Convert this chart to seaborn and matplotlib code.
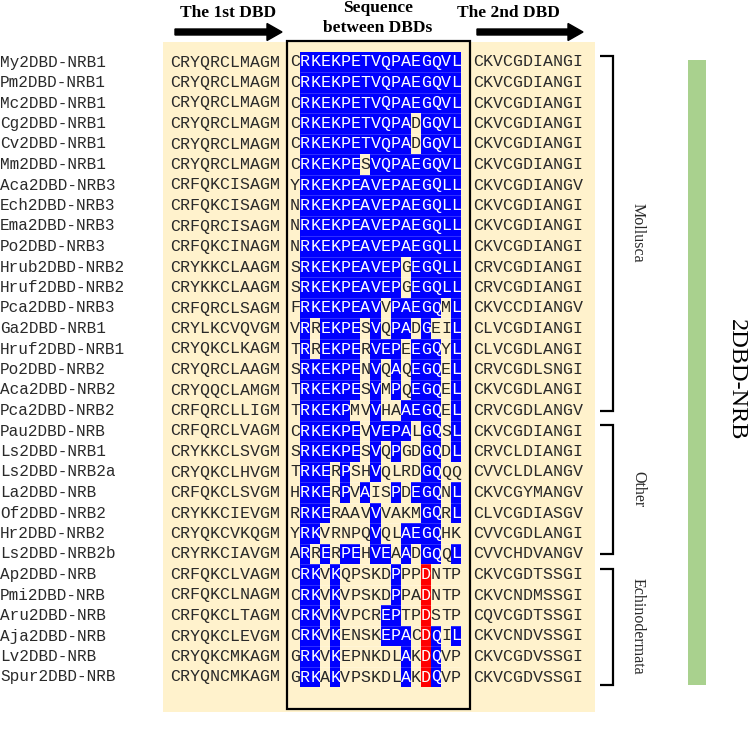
import numpy as np
import matplotlib
matplotlib.use("Agg")
import matplotlib.pyplot as plt
import seaborn as sns
from matplotlib.colors import ListedColormap
from matplotlib.patches import Rectangle, FancyArrow

# ---------------- data ----------------
names = [
    "My2DBD-NRB1", "Pm2DBD-NRB1", "Mc2DBD-NRB1", "Cg2DBD-NRB1", "Cv2DBD-NRB1",
    "Mm2DBD-NRB1", "Aca2DBD-NRB3", "Ech2DBD-NRB3", "Ema2DBD-NRB3", "Po2DBD-NRB3",
    "Hrub2DBD-NRB2", "Hruf2DBD-NRB2", "Pca2DBD-NRB3", "Ga2DBD-NRB1", "Hruf2DBD-NRB1",
    "Po2DBD-NRB2", "Aca2DBD-NRB2", "Pca2DBD-NRB2", "Pau2DBD-NRB", "Ls2DBD-NRB1",
    "Ls2DBD-NRB2a", "La2DBD-NRB", "Of2DBD-NRB2", "Hr2DBD-NRB2", "Ls2DBD-NRB2b",
    "Ap2DBD-NRB", "Pmi2DBD-NRB", "Aru2DBD-NRB", "Aja2DBD-NRB", "Lv2DBD-NRB",
    "Spur2DBD-NRB",
]
left_seq = [
    "CRYQRCLMAGM", "CRYQRCLMAGM", "CRYQRCLMAGM", "CRYQRCLMAGM", "CRYQRCLMAGM",
    "CRYQRCLMAGM", "CRFQKCISAGM", "CRFQKCISAGM", "CRFQRCISAGM", "CRFQKCINAGM",
    "CRYKKCLAAGM", "CRYKKCLAAGM", "CRFQRCLSAGM", "CRYLKCVQVGM", "CRYQKCLKAGM",
    "CRYQRCLAAGM", "CRYQQCLAMGM", "CRFQRCLLIGM", "CRFQRCLVAGM", "CRYKKCLSVGM",
    "CRYQKCLHVGM", "CRFQKCLSVGM", "CRYKKCIEVGM", "CRYQKCVKQGM", "CRYRKCIAVGM",
    "CRFQKCLVAGM", "CRFQKCLNAGM", "CRFQKCLTAGM", "CRYQKCLEVGM", "CRYQKCMKAGM",
    "CRYQNCMKAGM",
]
mid_seq = [
    "CRKEKPETVQPAEGQVL", "CRKEKPETVQPAEGQVL", "CRKEKPETVQPAEGQVL", "CRKEKPETVQPADGQVL",
    "CRKEKPETVQPADGQVL", "CRKEKPESVQPAEGQVL", "YRKEKPEAVEPAEGQLL", "NRKEKPEAVEPAEGQLL",
    "NRKEKPEAVEPAEGQLL", "NRKEKPEAVEPAEGQLL", "SRKEKPEAVEPGEGQLL", "SRKEKPEAVEPGEGQLL",
    "FRKEKPEAVVPAEGQML", "VRREKPESVQPADGEIL", "TRREKPERVEPEEGQYL", "SRKEKPENVQAQEGQEL",
    "TRKEKPESVMPQEGQEL", "TRKEKPMVVHAAEGQEL", "CRKEKPEVVEPALGQSL", "SRKEKPESVQPGDGQDL",
    "TRKERPSHVQLRDGQQQ", "HRKERPVAISPDEGQNL", "RRKERAAVVVAKMGQRL", "YRKVRNPQVQLAEGQHK",
    "ARRERPEHVEAADGQQL", "CRKVKQPSKDPPPDNTP", "CRKVKVPSKDPPADNTP", "CRKVKVPCREPTPDSTP",
    "CRKVKENSKEPACDQIL", "GRKVKEPNKDLAKDQVP", "GRKAKVPSKDLAKDQVP",
]
# shading of the between-DBD sequence: '.' none, 'b' blue, 'r' red
mid_marks = [
    ".bbbbbbbbbbbbbbbb", ".bbbbbbbbbbbbbbbb", ".bbbbbbbbbbbbbbbb", ".bbbbbbbbbbb.bbbb",
    ".bbbbbbbbbbb.bbbb", ".bbbbbb.bbbbbbbbb", ".bbbbbbbbbbbbbbbb", ".bbbbbbbbbbbbbbbb",
    ".bbbbbbbbbbbbbbbb", ".bbbbbbbbbbbbbbbb", ".bbbbbbbbbb.bbbbb", ".bbbbbbbbbb.bbbbb",
    ".bbbbbbbb.bbbbb.b", ".b.bbbb.b.bb.b..b", ".b.bbbb.bbb.bbb.b", ".bbbbbb.b.b.bbb.b",
    ".bbbbbb.b.b.bbb.b", ".bbbbb..b..bbbb.b", ".bbbbbb.bbbb.bb.b", ".bbbbbb.b.b..bb.b",
    ".bbb.b..b....bb..", ".bbb.b.b..b.bbb.b", ".bbb....b....bb.b", ".bb.....b..bbbb..",
    ".b.b.bb.bb.b.bb.b", ".bb.b.....b..r...", ".bb.b.....b..r...", ".bb.b....bb..r...",
    ".bb.b....bbb.rb.b", ".bb.b......b.rb..", ".bb.b......b.rb..",
]
right_seq = [
    "CKVCGDIANGI", "CKVCGDIANGI", "CKVCGDIANGI", "CKVCGDIANGI", "CKVCGDIANGI",
    "CKVCGDIANGI", "CKVCGDIANGV", "CKVCGDIANGI", "CKVCGDIANGI", "CKVCGDIANGI",
    "CRVCGDIANGI", "CRVCGDIANGI", "CKVCCDIANGV", "CLVCGDIANGI", "CLVCGDLANGI",
    "CRVCGDLSNGI", "CKVCGDLANGI", "CRVCGDLANGV", "CKVCGDIANGI", "CRVCLDIANGI",
    "CVVCLDLANGV", "CKVCGYMANGV", "CLVCGDIASGV", "CVVCGDLANGI", "CVVCHDVANGV",
    "CKVCGDTSSGI", "CKVCNDMSSGI", "CQVCGDTSSGI", "CKVCNDVSSGI", "CKVCGDVSSGI",
    "CKVCGDVSSGI",
]
groups = ["Mollusca", "Other", "Echinodermata"]
group_sizes = [18, 7, 6]
headers = ["The 1st DBD", "Sequence\nbetween DBDs", "The 2nd DBD"]
family_label = "2DBD-NRB"

# ---------------- style ----------------
sns.set_theme(style="white")
plt.rcParams["font.family"] = ["DejaVu Sans"]

cream = "#fff2cc"
blue = "#0000ff"
red = "#ff0000"
green = "#a9d18e"
txt = "#2a2a2a"
mono = "Liberation Mono"
serif = "Liberation Serif"

W, H = 750, 740
fig = plt.figure(figsize=(7.5, 7.4), dpi=100)
ax = fig.add_axes([0, 0, 1, 1])
ax.set_xlim(0, W)
ax.set_ylim(H, 0)
ax.axis("off")

n = len(names)
row0, dy = 62.0, 20.5
ys = row0 + dy * np.arange(n)
cw = 10.06

# cream background
ax.add_patch(Rectangle((163, 42), 595 - 163, 712 - 42, facecolor=cream,
                       edgecolor="none", zorder=0))

# names, left and right sequences
for y, nm, ls, rs in zip(ys, names, left_seq, right_seq):
    ax.text(0, y, nm, ha="left", va="center", fontsize=11.5, family=mono, color=txt)
    ax.text(170, y, ls, ha="left", va="center", fontsize=12, family=mono, color=txt)
    ax.text(473, y, rs, ha="left", va="center", fontsize=12, family=mono, color=txt)

# between-DBD sequence as a seaborn heatmap
codes = {".": 0, "b": 1, "r": 2}
vals = np.array([[codes[c] for c in m] for m in mid_marks])
letters = np.array([list(s) for s in mid_seq])
ncol = vals.shape[1]
top = ys[0] - dy / 2
hm_ax = fig.add_axes([290 / W, 1 - (top + n * dy) / H, ncol * cw / W, n * dy / H])
sns.heatmap(vals, ax=hm_ax, cmap=ListedColormap([cream, blue, red]),
            vmin=-0.5, vmax=2.5, cbar=False, annot=letters, fmt="",
            annot_kws=dict(family=mono, fontsize=12),
            xticklabels=False, yticklabels=False)
# faint row separators inside the shaded block
hm_ax.hlines(np.arange(1, n), 1, ncol, colors=(1, 1, 1, 0.22), lw=0.6)
hm_ax.axis("off")

# black box around between-DBD sequence
ax.add_patch(Rectangle((287, 41), 470 - 287, 709 - 41, facecolor="none",
                       edgecolor="black", lw=1.6, zorder=5))

# headers and arrows
ax.text(228, 13, headers[0], ha="center", va="center", fontsize=12.5,
        family=serif, weight="bold", color="black")
ax.text(378, 18, headers[1], ha="center", va="center", fontsize=12.5,
        family=serif, weight="bold", color="black", linespacing=1.25)
ax.text(508, 13, headers[2], ha="center", va="center", fontsize=12.5,
        family=serif, weight="bold", color="black")
for x0, x1 in [(175, 282), (477, 583)]:
    ax.add_patch(FancyArrow(x0, 32, x1 - x0, 0, width=6, head_width=17,
                            head_length=15, length_includes_head=True,
                            color="black", zorder=5))

# group brackets
start = 0
for g, size in zip(groups, group_sizes):
    y_top = ys[start] - 6
    y_bot = ys[start + size - 1] + (8 if start + size == n else 0)
    ax.plot([600, 613, 613, 600], [y_top, y_top, y_bot, y_bot], color="black",
            lw=1.6, solid_joinstyle="miter", solid_capstyle="butt")
    ax.text(638, (y_top + y_bot) / 2, g, rotation=-90, ha="center", va="center",
            fontsize=11.5, family=serif, color=txt)
    start += size

# family bar and label
ax.add_patch(Rectangle((688, 60), 18, 625, facecolor=green, edgecolor="none"))
ax.text(736, 380, family_label, rotation=-90, ha="center", va="center",
        fontsize=17.5, family=serif, color="black")

fig.savefig("out.png", dpi=100)
